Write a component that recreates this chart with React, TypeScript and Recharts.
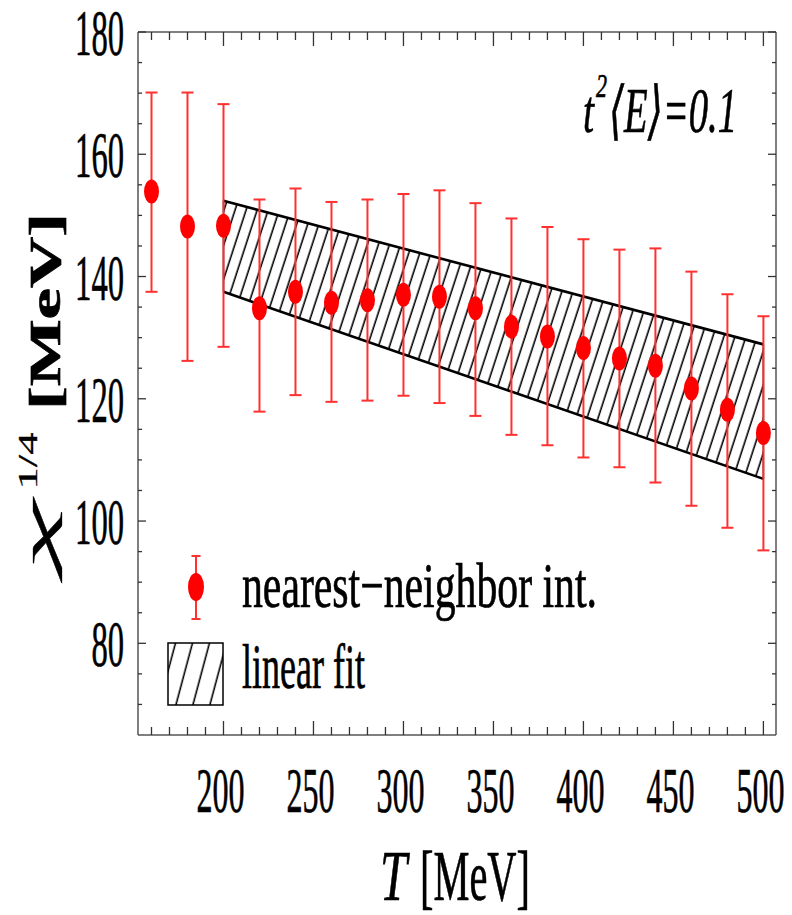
import React from 'react';
import { ComposedChart, XAxis, YAxis, Scatter, ErrorBar, Area, ReferenceLine } from 'recharts';

// ---- data ----
const temperatures = [160, 180, 200, 220, 240, 260, 280, 300, 320, 340, 360, 380, 400, 420, 440, 460, 480, 500];
const chiValues = [153.9, 148.2, 148.3, 134.8, 137.5, 135.7, 136.1, 137.0, 136.7, 134.8, 131.8, 130.2, 128.3, 126.6, 125.4, 121.7, 118.2, 114.4];
const chiLower = [137.5, 126.2, 128.5, 117.9, 120.6, 119.5, 119.7, 120.5, 119.3, 117.2, 114.1, 112.4, 110.4, 108.8, 106.3, 102.5, 98.9, 95.2];
const chiUpper = [170.1, 170.1, 168.2, 152.6, 154.4, 152.2, 152.6, 153.5, 154.1, 152.0, 149.5, 148.1, 146.1, 144.4, 144.6, 140.8, 137.1, 133.5];

const fitT = [200, 500];
const fitLower = [137.5, 106.9];
const fitUpper = [152.4, 128.9];

const xTicks = [160, 170, 180, 190, 200, 210, 220, 230, 240, 250, 260, 270, 280, 290, 300, 310, 320, 330, 340, 350, 360, 370, 380, 390, 400, 410, 420, 430, 440, 450, 460, 470, 480, 490, 500];
const xTickLabels = ['200', '250', '300', '350', '400', '450', '500'];
const yTicks = [70, 75, 80, 85, 90, 95, 100, 105, 110, 115, 120, 125, 130, 135, 140, 145, 150, 155, 160, 165, 170, 175, 180];
const yTickLabels = ['80', '100', '120', '140', '160', '180'];

const xDomain = [152.5, 507];
const yDomain = [65, 180];

const pointRows = temperatures.map((T, i) => ({
  T,
  v: chiValues[i],
  err: [chiValues[i] - chiLower[i], chiUpper[i] - chiValues[i]],
}));
const bandRows = fitT.map((T, i) => ({ T, band: [fitLower[i], fitUpper[i]] }));

const SERIF = '"Liberation Serif", "DejaVu Serif", serif';
const FRAME = '#555';
const TICK = '#333';
const TXT = { fill: '#000', stroke: '#000', strokeWidth: 0.7 };

const XTickBottom = (props: any) => {
  const { x, y, payload } = props;
  const label = String(payload.value);
  const major = xTickLabels.includes(label);
  return (
    <g>
      <line x1={x} x2={x} y1={y} y2={y - (major ? 14 : 8)} stroke={TICK} strokeWidth={1.3} />
      {major && (
        <text x={x - 3} y={y + 77} textAnchor="middle" fontSize={64} fontFamily={SERIF} {...TXT}
          textLength={48} lengthAdjust="spacingAndGlyphs">{label}</text>
      )}
    </g>
  );
};

const XTickTop = (props: any) => {
  const { x, y, payload } = props;
  const major = xTickLabels.includes(String(payload.value));
  return <line x1={x} x2={x} y1={y} y2={y + (major ? 14 : 8)} stroke={TICK} strokeWidth={1.3} />;
};

const YTickLeft = (props: any) => {
  const { x, y, payload } = props;
  const label = String(payload.value);
  const major = yTickLabels.includes(label);
  return (
    <g>
      <line x1={x} x2={x + (major ? 8 : 4)} y1={y} y2={y} stroke={TICK} strokeWidth={1.3} />
      {major && (
        <text x={124} y={y + 23} textAnchor="end" fontSize={66} fontFamily={SERIF} {...TXT}
          textLength={16.3 * label.length} lengthAdjust="spacingAndGlyphs">{label}</text>
      )}
    </g>
  );
};

const YTickRight = (props: any) => {
  const { x, y, payload } = props;
  const major = yTickLabels.includes(String(payload.value));
  return <line x1={x} x2={x - (major ? 8 : 4)} y1={y} y2={y} stroke={TICK} strokeWidth={1.3} />;
};

const Marker = (props: any) => {
  const { cx, cy } = props;
  if (cx == null || cy == null) return null;
  return <ellipse cx={cx} cy={cy} rx={7.5} ry={12} fill="#ff0000" />;
};

export default function App() {
  return (
    <div style={{ position: 'absolute', left: 0, top: 0, width: 792, height: 915, background: '#fff' }}>
      <ComposedChart width={792} height={915} data={pointRows}
        margin={{ top: 31, right: 15, bottom: 0, left: 0 }}>
        <defs>
          <pattern id="hatchBand" patternUnits="userSpaceOnUse" width={10.5} height={20} patternTransform="rotate(18)">
            <line x1={5} y1={-2} x2={5} y2={22} stroke="#000" strokeWidth={1.6} />
          </pattern>
          <pattern id="hatchLegend" patternUnits="userSpaceOnUse" width={16.4} height={20} patternTransform="rotate(15)">
            <line x1={8} y1={-2} x2={8} y2={22} stroke="#000" strokeWidth={1.6} />
          </pattern>
        </defs>
        <XAxis xAxisId="b" dataKey="T" type="number" domain={xDomain} allowDataOverflow ticks={xTicks} interval={0}
          tick={<XTickBottom />} tickLine={false} tickSize={0} tickMargin={0} height={180}
          axisLine={{ stroke: FRAME, strokeWidth: 1.5 }} />
        <XAxis xAxisId="t" orientation="top" dataKey="T" type="number" domain={xDomain} allowDataOverflow ticks={xTicks} interval={0}
          tick={<XTickTop />} tickLine={false} tickSize={0} tickMargin={0} height={1}
          axisLine={{ stroke: FRAME, strokeWidth: 1.5 }} />
        <YAxis yAxisId="l" type="number" domain={yDomain} allowDataOverflow ticks={yTicks} interval={0}
          tick={<YTickLeft />} tickLine={false} tickSize={0} tickMargin={0} width={138}
          axisLine={{ stroke: FRAME, strokeWidth: 1.5 }} />
        <YAxis yAxisId="r" orientation="right" type="number" domain={yDomain} allowDataOverflow ticks={yTicks} interval={0}
          tick={<YTickRight />} tickLine={false} tickSize={0} tickMargin={0} width={1}
          axisLine={{ stroke: FRAME, strokeWidth: 1.5 }} />

        <Area xAxisId="b" yAxisId="l" data={bandRows} dataKey="band" type="linear"
          fill="url(#hatchBand)" fillOpacity={1} stroke="#000" strokeWidth={2.6}
          dot={false} activeDot={false} isAnimationActive={false} />
        <ReferenceLine xAxisId="b" yAxisId="l" segment={[{ x: fitT[0], y: fitLower[0] }, { x: fitT[0], y: fitUpper[0] }]}
          stroke="#000" strokeWidth={1.5} />
        <ReferenceLine xAxisId="b" yAxisId="l" segment={[{ x: fitT[1], y: fitLower[1] }, { x: fitT[1], y: fitUpper[1] }]}
          stroke="#000" strokeWidth={1.5} />

        <Scatter xAxisId="b" yAxisId="l" dataKey="v" shape={<Marker />} isAnimationActive={false}>
          <ErrorBar dataKey="err" direction="y" width={6} stroke="#ff3030" strokeWidth={2} isAnimationActive={false} />
        </Scatter>

        {/* annotation */}
        <g fontFamily={SERIF} fontStyle="italic" {...TXT}>
          <text x={583} y={132} fontSize={62} textLength={11} lengthAdjust="spacingAndGlyphs">t</text>
          <text x={596} y={97} fontSize={33} textLength={11} lengthAdjust="spacingAndGlyphs">2</text>
          <text x={609} y={132} fontSize={64} textLength={128} lengthAdjust="spacingAndGlyphs">⟨E⟩=0.1</text>
        </g>

        {/* legend */}
        <g>
          <line x1={196} x2={196} y1={556} y2={619} stroke="#ff3030" strokeWidth={2} />
          <line x1={191.5} x2={200.5} y1={556} y2={556} stroke="#ff3030" strokeWidth={2} />
          <line x1={191.5} x2={200.5} y1={619} y2={619} stroke="#ff3030" strokeWidth={2} />
          <ellipse cx={196} cy={587} rx={8} ry={14} fill="#ff0000" />
          <text x={242} y={607} fontSize={64} fontFamily={SERIF} {...TXT} textLength={355} lengthAdjust="spacingAndGlyphs">nearest−neighbor int.</text>
          <rect x={168} y={643} width={55} height={62} fill="url(#hatchLegend)" stroke="#000" strokeWidth={1.5} />
          <text x={242} y={688} fontSize={64} fontFamily={SERIF} {...TXT} textLength={123} lengthAdjust="spacingAndGlyphs">linear fit</text>
        </g>

        {/* axis titles */}
        <g fontFamily={SERIF} {...TXT}>
          <text x={380} y={900} fontSize={72} fontStyle="italic" textLength={27} lengthAdjust="spacingAndGlyphs">T</text>
          <text x={420} y={900} fontSize={72} textLength={110} lengthAdjust="spacingAndGlyphs">[MeV]</text>
          <text transform="translate(60,311.5) rotate(-90)" textAnchor="middle" fontSize={44} fontWeight="bold"
            textLength={197} lengthAdjust="spacingAndGlyphs">[MeV]</text>
          <text transform="translate(53,535) rotate(-90)" textAnchor="middle" fontSize={44} fontStyle="italic"
            strokeWidth={0.3} textLength={70} lengthAdjust="spacingAndGlyphs">χ</text>
          <text transform="translate(37,461) rotate(-90)" textAnchor="middle" fontSize={28}
            strokeWidth={0.3} textLength={57} lengthAdjust="spacingAndGlyphs">1/4</text>
        </g>
      </ComposedChart>
    </div>
  );
}
